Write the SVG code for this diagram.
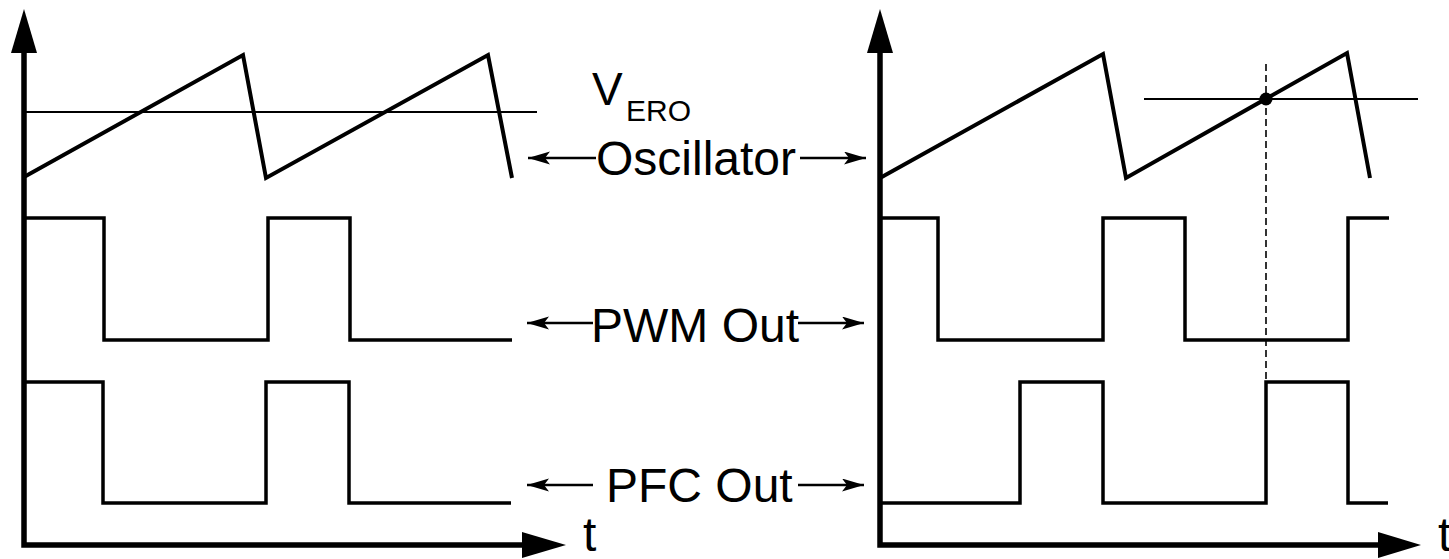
<svg xmlns="http://www.w3.org/2000/svg" width="1449" height="559" viewBox="0 0 1449 559">
<style>
.axis{stroke:#000;stroke-width:5.5;fill:none}
.head{fill:#000;stroke:none}
.saw{stroke:#000;stroke-width:4;fill:none;stroke-linejoin:miter;stroke-miterlimit:20}
.pulse{stroke:#000;stroke-width:3.5;fill:none;stroke-linejoin:miter}
.ref{stroke:#000;stroke-width:1.8;fill:none}
.dash{stroke:#000;stroke-width:1.6;fill:none;stroke-dasharray:7 4}
.conn{stroke:#000;stroke-width:2.3;fill:none;marker-end:url(#arr)}
.lbl{font-family:"Liberation Sans",Arial,sans-serif;font-size:48px;fill:#000}
.sub{font-family:"Liberation Sans",Arial,sans-serif;font-size:30px;fill:#000}
</style>
<defs>
<marker id="arr" markerUnits="userSpaceOnUse" markerWidth="24" markerHeight="14" refX="22" refY="6.5" orient="auto">
<path d="M0,0 L22,6.5 L0,13 L5,6.5 Z" fill="#000"/>
</marker>
</defs>
<rect width="1449" height="559" fill="#fff"/>
<g id="left-axes">
<path class="axis" d="M24,50 V545 H525"/>
<polygon class="head" points="24,9 11,53 37,53"/>
<polygon class="head" points="566,545 522,532 522,558"/>
<text class="lbl" x="583" y="551">t</text>
</g>
<g id="left-oscillator">
<path class="ref" d="M24,112 H537"/>
<path class="saw" d="M24,177 L243,55 L266,178 L488,55 L512,178"/>
</g>
<g id="left-pwm">
<path class="pulse" d="M24,218 H104 V340 H268 V218 H350 V340 H512"/>
</g>
<g id="left-pfc">
<path class="pulse" d="M24,382 H103 V503 H266 V382 H349 V503 H511"/>
</g>
<g id="right-axes">
<path class="axis" d="M880,50 V545 H1380"/>
<polygon class="head" points="880,9 867,53 893,53"/>
<polygon class="head" points="1421,545 1378,532 1378,558"/>
<text class="lbl" x="1438" y="551">t</text>
</g>
<g id="right-oscillator">
<path class="ref" d="M1144,99 H1418"/>
<path class="saw" d="M880,178 L1103,54 L1126,178 L1347,53 L1370,178"/>
<path class="dash" d="M1266,64 V380"/>
<circle cx="1266" cy="99" r="6.5" fill="#000"/>
</g>
<g id="right-pwm">
<path class="pulse" d="M880,218 H938 V340 H1103 V218 H1185 V340 H1348 V218 H1389"/>
</g>
<g id="right-pfc">
<path class="pulse" d="M880,503 H1020 V382 H1103 V503 H1266 V382 H1348 V503 H1388"/>
</g>
<g id="label-vero">
<text class="lbl" x="592" y="105" style="font-size:46px">V</text>
<text class="sub" x="626" y="121">ERO</text>
</g>
<g id="label-oscillator">
<text class="lbl" x="596" y="175">Oscillator</text>
</g>
<g id="label-pwm">
<text class="lbl" x="591" y="342">PWM Out</text>
</g>
<g id="label-pfc">
<text class="lbl" x="606" y="502">PFC Out</text>
</g>
<g id="connectors">
<path class="conn" d="M596,158 H528"/>
<path class="conn" d="M800,158 H866"/>
<path class="conn" d="M593,323 H527"/>
<path class="conn" d="M798,323 H864"/>
<path class="conn" d="M593,485 H527"/>
<path class="conn" d="M798,485 H864"/>
</g>
</svg>
